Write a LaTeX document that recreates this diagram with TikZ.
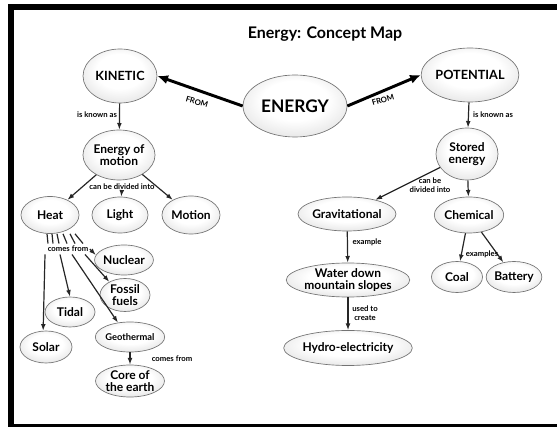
\documentclass[tikz,border=0pt]{standalone}
\usepackage{fontspec}
\setmainfont{Lato}
\usetikzlibrary{shapes.geometric,arrows.meta,calc}

\pgfdeclareradialshading{bubbleshade}{\pgfpoint{0bp}{6bp}}{color(0bp)=(white); color(16bp)=(white); color(38bp)=(black!16); color(50bp)=(black!32); color(60bp)=(black!32)}

\tikzset{
	bubble/.style 2 args={ellipse, draw=black!55, line width=0.5pt, inner sep=0pt,
		shading=bubbleshade, minimum width={#1*0.75pt}, minimum height={#2*0.75pt},
		align=center, font=\bfseries\fontsize{9}{9.5}\selectfont},
	link/.style={draw=black!85, line width=0.9pt, -{Latex[length=5pt,width=3.6pt]}},
	biglink/.style={draw=black, line width=2.2pt, -{Latex[length=8pt,width=7pt]}},
	fan/.style={draw=black!85, line width=0.9pt},
	tag/.style={align=center, inner sep=1pt, font=\bfseries\fontsize{5.8}{6.4}\selectfont},
}

\begin{document}
\begin{tikzpicture}[x=0.75pt, y=-0.75pt]
			%%%%% START %%%%%
			
			\useasboundingbox (0,0) rectangle (557,427);
			\fill[black] (8,4) rectangle (557,10);
			\fill[black] (8,4) rectangle (14,427);
			\fill[black] (8,424) rectangle (557,427);
			
			\node[font=\bfseries\fontsize{12}{14}\selectfont] (title) at (325,34) {Energy: Concept Map};
			
			\node[bubble={104}{62}, font=\bfseries\fontsize{13}{15}\selectfont] (energy) at (295,106) {ENERGY};
			\node[bubble={74}{54}, font=\bfseries\fontsize{9.5}{11}\selectfont] (kinetic) at (120,76) {KINETIC};
			\node[bubble={81}{54}, font=\bfseries\fontsize{9.5}{11}\selectfont] (potential) at (470,75) {POTENTIAL};
			
			\draw[biglink] (energy.west) -- (kinetic.east);
			\draw[biglink] (energy.east) -- (potential.west);
			\node[tag, rotate=-16] (from1) at (197,102) {FROM};
			\node[tag, rotate=16] (from2) at (383,100) {FROM};
			
			%% kinetic side
			\node[bubble={66}{50}] (moving) at (119,155) {Energy of\\motion};
			\draw[link] (kinetic) -- (moving);
			\node[tag] (known1) at (97,115) {is known as};
			
			\node[bubble={58}{37}] (heat) at (50,215) {Heat};
			\node[bubble={56}{36}] (light) at (120,215) {Light};
			\node[bubble={58}{38}] (motion) at (191,215) {Motion};
			\node[tag] (divided1) at (122,187) {can be divided into};
			\draw[link] (moving) -- (heat);
			\draw[link] (divided1) -- (light);
			\draw[link] (moving) -- (motion);
			
			\node[tag] (cf) at (68,249) {comes from};
			\foreach \a/\b in {-3/-20, 2/-15, 7/-9, 13/-1, 20/7, 25/15}
				\draw[fan] ($(heat.south)+(\a,0)$) -- ($(cf.north)+(\b,-1)$);
			
			\node[bubble={50}{30}] (nuclear) at (124,260) {Nuclear};
			\node[bubble={50}{33}] (fossil) at (125,295) {Fossil\\fuels};
			\node[bubble={50}{30}] (tidal) at (70,312) {Tidal};
			\node[bubble={52}{32}] (solar) at (46,347) {Solar};
			\node[bubble={52}{30}, font=\bfseries\fontsize{7}{8}\selectfont] (geo) at (130,337) {Geothermal};
			\node[bubble={52}{32}] (core) at (130,381) {Core of\\the earth};
			
			\draw[link] (cf.east) -- (nuclear.170);
			\draw[link] ($(cf.south)+(17,1)$) -- (fossil.140);
			\draw[link] ($(cf.south)+(-8,1)$) -- (tidal.north);
			\draw[link] ($(cf.south)+(-23,1)$) -- (solar.100);
			\draw[link] ($(cf.south)+(4,1)$) -- (geo.130);
			\draw[link] (geo) -- (core);
			\node[tag] (cf2) at (172,359) {comes from};
			
			%% potential side
			\node[bubble={62}{52}] (stored) at (467,154) {Stored\\energy};
			\draw[link] (potential) -- (stored);
			\node[tag] (known2) at (493,115) {is known as};
			
			\node[bubble={86}{34}] (grav) at (347,214) {Gravitational};
			\node[bubble={56}{36}] (chem) at (469,215) {Chemical};
			\draw[link] (stored) -- (grav);
			\draw[link] (stored) -- (chem);
			\node[tag] (divided2) at (430,185) {can be\\divided into};
			
			\node[bubble={87}{34}] (water) at (348,280) {Water down\\mountain slopes};
			\node[bubble={87}{35}] (hydro) at (348,348) {Hydro-electricity};
			\draw[link] (grav) -- (water);
			\draw[link] (water) -- (hydro);
			\node[tag] (example) at (367,242) {example};
			\node[tag] (usedto) at (365,313) {used to\\create};
			
			\node[bubble={51}{31}] (coal) at (457,277) {Coal};
			\node[bubble={52}{31}] (battery) at (514,277) {Battery};
			\draw[link] (chem) -- (coal);
			\draw[link] (chem) -- (battery);
			\node[tag] (examples) at (482,254) {examples};
			
			%%%%% END %%%%%
\end{tikzpicture}
\end{document}
